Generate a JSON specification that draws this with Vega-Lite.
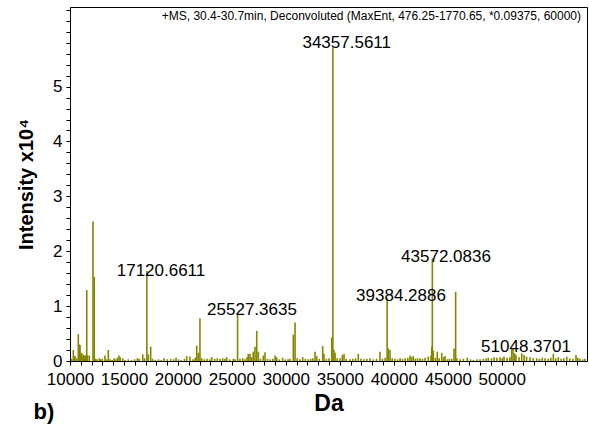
{
  "$schema": "https://vega.github.io/schema/vega-lite/v6.json",
  "autosize": "none",
  "padding": {"left": 70, "top": 7, "right": 2, "bottom": 64},
  "width": 517,
  "height": 354,
  "background": "white",
  "config": {
    "font": "Liberation Sans",
    "view": {"stroke": "black", "strokeWidth": 1}
  },
  "datasets": {
    "peaks": [
      {"mz": 10150, "intensity": 0.04}, {"mz": 10310, "intensity": 0.2}, {"mz": 10400, "intensity": 0.06},
      {"mz": 10460, "intensity": 0.09}, {"mz": 10620, "intensity": 0.05}, {"mz": 10770, "intensity": 0.49},
      {"mz": 10850, "intensity": 0.3}, {"mz": 10930, "intensity": 0.29}, {"mz": 11000, "intensity": 0.12},
      {"mz": 11080, "intensity": 0.15}, {"mz": 11160, "intensity": 0.08}, {"mz": 11240, "intensity": 0.12},
      {"mz": 11320, "intensity": 0.09}, {"mz": 11390, "intensity": 0.1}, {"mz": 11470, "intensity": 0.1},
      {"mz": 11550, "intensity": 1.29}, {"mz": 11620, "intensity": 0.1}, {"mz": 11790, "intensity": 0.1},
      {"mz": 12130, "intensity": 2.54}, {"mz": 12250, "intensity": 1.53}, {"mz": 12350, "intensity": 0.04},
      {"mz": 12500, "intensity": 0.03}, {"mz": 12720, "intensity": 0.05}, {"mz": 12850, "intensity": 0.03},
      {"mz": 13000, "intensity": 0.04}, {"mz": 13240, "intensity": 0.1}, {"mz": 13400, "intensity": 0.03},
      {"mz": 13550, "intensity": 0.2}, {"mz": 13700, "intensity": 0.03}, {"mz": 13900, "intensity": 0.02},
      {"mz": 14080, "intensity": 0.05}, {"mz": 14250, "intensity": 0.03}, {"mz": 14400, "intensity": 0.06},
      {"mz": 14540, "intensity": 0.1}, {"mz": 14650, "intensity": 0.07}, {"mz": 14880, "intensity": 0.05},
      {"mz": 15100, "intensity": 0.02}, {"mz": 15400, "intensity": 0.03}, {"mz": 15700, "intensity": 0.02},
      {"mz": 16000, "intensity": 0.03}, {"mz": 16240, "intensity": 0.05}, {"mz": 16400, "intensity": 0.04},
      {"mz": 16740, "intensity": 0.12}, {"mz": 16900, "intensity": 0.05}, {"mz": 17120, "intensity": 1.64},
      {"mz": 17250, "intensity": 0.12}, {"mz": 17475, "intensity": 0.26}, {"mz": 17650, "intensity": 0.04},
      {"mz": 17900, "intensity": 0.02}, {"mz": 18200, "intensity": 0.03}, {"mz": 18450, "intensity": 0.02},
      {"mz": 18710, "intensity": 0.05}, {"mz": 19000, "intensity": 0.03}, {"mz": 19330, "intensity": 0.04},
      {"mz": 19600, "intensity": 0.03}, {"mz": 19820, "intensity": 0.06}, {"mz": 20050, "intensity": 0.03},
      {"mz": 20300, "intensity": 0.02}, {"mz": 20600, "intensity": 0.04}, {"mz": 20810, "intensity": 0.09},
      {"mz": 21120, "intensity": 0.08}, {"mz": 21400, "intensity": 0.03}, {"mz": 21600, "intensity": 0.06},
      {"mz": 21740, "intensity": 0.28}, {"mz": 21890, "intensity": 0.15}, {"mz": 22040, "intensity": 0.78},
      {"mz": 22200, "intensity": 0.05}, {"mz": 22450, "intensity": 0.03}, {"mz": 22700, "intensity": 0.04},
      {"mz": 22950, "intensity": 0.03}, {"mz": 23130, "intensity": 0.07}, {"mz": 23400, "intensity": 0.04},
      {"mz": 23650, "intensity": 0.05}, {"mz": 23900, "intensity": 0.04}, {"mz": 24150, "intensity": 0.05},
      {"mz": 24350, "intensity": 0.04}, {"mz": 24520, "intensity": 0.07}, {"mz": 24800, "intensity": 0.03},
      {"mz": 25130, "intensity": 0.04}, {"mz": 25300, "intensity": 0.03}, {"mz": 25527, "intensity": 0.87},
      {"mz": 25750, "intensity": 0.04}, {"mz": 26000, "intensity": 0.05}, {"mz": 26200, "intensity": 0.03},
      {"mz": 26400, "intensity": 0.07}, {"mz": 26520, "intensity": 0.13}, {"mz": 26680, "intensity": 0.13},
      {"mz": 26830, "intensity": 0.07}, {"mz": 26980, "intensity": 0.17}, {"mz": 27140, "intensity": 0.26},
      {"mz": 27300, "intensity": 0.55}, {"mz": 27450, "intensity": 0.17}, {"mz": 27650, "intensity": 0.04},
      {"mz": 27910, "intensity": 0.1}, {"mz": 28070, "intensity": 0.16}, {"mz": 28300, "intensity": 0.04},
      {"mz": 28550, "intensity": 0.03}, {"mz": 28800, "intensity": 0.04}, {"mz": 29000, "intensity": 0.1},
      {"mz": 29150, "intensity": 0.07}, {"mz": 29400, "intensity": 0.03}, {"mz": 29700, "intensity": 0.06},
      {"mz": 29950, "intensity": 0.03}, {"mz": 30200, "intensity": 0.03}, {"mz": 30380, "intensity": 0.04},
      {"mz": 30690, "intensity": 0.48}, {"mz": 30850, "intensity": 0.7}, {"mz": 31050, "intensity": 0.05},
      {"mz": 31300, "intensity": 0.03}, {"mz": 31560, "intensity": 0.07}, {"mz": 31800, "intensity": 0.04},
      {"mz": 32050, "intensity": 0.03}, {"mz": 32300, "intensity": 0.04}, {"mz": 32500, "intensity": 0.05},
      {"mz": 32700, "intensity": 0.17}, {"mz": 32860, "intensity": 0.09}, {"mz": 33100, "intensity": 0.04},
      {"mz": 33410, "intensity": 0.27}, {"mz": 33530, "intensity": 0.13}, {"mz": 33750, "intensity": 0.04},
      {"mz": 34000, "intensity": 0.05}, {"mz": 34250, "intensity": 0.43}, {"mz": 34357, "intensity": 5.71},
      {"mz": 34450, "intensity": 0.2}, {"mz": 34560, "intensity": 0.15}, {"mz": 34750, "intensity": 0.05},
      {"mz": 35020, "intensity": 0.05}, {"mz": 35230, "intensity": 0.11}, {"mz": 35390, "intensity": 0.13},
      {"mz": 35600, "intensity": 0.04}, {"mz": 35940, "intensity": 0.03}, {"mz": 36200, "intensity": 0.04},
      {"mz": 36450, "intensity": 0.05}, {"mz": 36710, "intensity": 0.13}, {"mz": 36950, "intensity": 0.04},
      {"mz": 37240, "intensity": 0.03}, {"mz": 37500, "intensity": 0.04}, {"mz": 37800, "intensity": 0.05},
      {"mz": 38100, "intensity": 0.03}, {"mz": 38400, "intensity": 0.04}, {"mz": 38720, "intensity": 0.17},
      {"mz": 38950, "intensity": 0.04}, {"mz": 39200, "intensity": 0.06}, {"mz": 39384, "intensity": 1.14},
      {"mz": 39490, "intensity": 0.23}, {"mz": 39650, "intensity": 0.2}, {"mz": 39850, "intensity": 0.05},
      {"mz": 40100, "intensity": 0.04}, {"mz": 40350, "intensity": 0.03}, {"mz": 40580, "intensity": 0.05},
      {"mz": 40800, "intensity": 0.04}, {"mz": 41050, "intensity": 0.05}, {"mz": 41300, "intensity": 0.06},
      {"mz": 41500, "intensity": 0.1}, {"mz": 41650, "intensity": 0.07}, {"mz": 41810, "intensity": 0.09},
      {"mz": 42000, "intensity": 0.04}, {"mz": 42200, "intensity": 0.05}, {"mz": 42430, "intensity": 0.05},
      {"mz": 42650, "intensity": 0.04}, {"mz": 42900, "intensity": 0.06}, {"mz": 43200, "intensity": 0.08},
      {"mz": 43450, "intensity": 0.1}, {"mz": 43520, "intensity": 0.26}, {"mz": 43572, "intensity": 1.87},
      {"mz": 43660, "intensity": 0.19}, {"mz": 43850, "intensity": 0.06}, {"mz": 44030, "intensity": 0.17},
      {"mz": 44200, "intensity": 0.05}, {"mz": 44440, "intensity": 0.15}, {"mz": 44600, "intensity": 0.07},
      {"mz": 44750, "intensity": 0.09}, {"mz": 44950, "intensity": 0.03}, {"mz": 45150, "intensity": 0.04},
      {"mz": 45370, "intensity": 0.04}, {"mz": 45580, "intensity": 0.23}, {"mz": 45730, "intensity": 1.26},
      {"mz": 45850, "intensity": 0.05}, {"mz": 46140, "intensity": 0.03}, {"mz": 46450, "intensity": 0.04},
      {"mz": 46810, "intensity": 0.06}, {"mz": 47100, "intensity": 0.03}, {"mz": 47370, "intensity": 0.02},
      {"mz": 47700, "intensity": 0.03}, {"mz": 47990, "intensity": 0.03}, {"mz": 48300, "intensity": 0.04},
      {"mz": 48550, "intensity": 0.05}, {"mz": 48760, "intensity": 0.06}, {"mz": 49050, "intensity": 0.05},
      {"mz": 49290, "intensity": 0.07}, {"mz": 49550, "intensity": 0.06}, {"mz": 49840, "intensity": 0.07},
      {"mz": 50050, "intensity": 0.05}, {"mz": 50210, "intensity": 0.08}, {"mz": 50500, "intensity": 0.06},
      {"mz": 50750, "intensity": 0.07}, {"mz": 50920, "intensity": 0.21}, {"mz": 51048, "intensity": 0.23},
      {"mz": 51200, "intensity": 0.14}, {"mz": 51320, "intensity": 0.11}, {"mz": 51600, "intensity": 0.07},
      {"mz": 51850, "intensity": 0.14}, {"mz": 52070, "intensity": 0.11}, {"mz": 52300, "intensity": 0.08},
      {"mz": 52620, "intensity": 0.07}, {"mz": 52900, "intensity": 0.05}, {"mz": 53240, "intensity": 0.05},
      {"mz": 53500, "intensity": 0.04}, {"mz": 53750, "intensity": 0.06}, {"mz": 54010, "intensity": 0.05},
      {"mz": 54300, "intensity": 0.04}, {"mz": 54550, "intensity": 0.06}, {"mz": 54780, "intensity": 0.13},
      {"mz": 55000, "intensity": 0.05}, {"mz": 55240, "intensity": 0.07}, {"mz": 55500, "intensity": 0.04},
      {"mz": 55750, "intensity": 0.05}, {"mz": 56020, "intensity": 0.08}, {"mz": 56300, "intensity": 0.05},
      {"mz": 56600, "intensity": 0.04}, {"mz": 56880, "intensity": 0.11}, {"mz": 57050, "intensity": 0.06},
      {"mz": 57250, "intensity": 0.04}, {"mz": 57500, "intensity": 0.03}, {"mz": 57700, "intensity": 0.04}
    ],
    "peakLabels": [
      {"mz": 35637, "intensity": 5.8, "label": "34357.5611"},
      {"mz": 18431, "intensity": 1.645, "label": "17120.6611"},
      {"mz": 26863, "intensity": 0.929, "label": "25527.3635"},
      {"mz": 40668, "intensity": 1.19, "label": "39384.2886"},
      {"mz": 44837, "intensity": 1.9, "label": "43572.0836"},
      {"mz": 52250, "intensity": 0.26, "label": "51048.3701"}
    ],
    "header": [
      {"mz": 57345, "intensity": 6.286, "label": "+MS, 30.4-30.7min, Deconvoluted (MaxEnt, 476.25-1770.65, *0.09375, 60000)"}
    ],
    "panel": [
      {"mz": 7591, "intensity": -0.929, "label": "b)"}
    ]
  },
  "encoding": {
    "x": {
      "field": "mz", "type": "quantitative",
      "scale": {"domain": [10000, 57900], "nice": false, "zero": false},
      "axis": {
        "title": "Da",
        "titleFont": "Liberation Sans", "titleFontSize": 23, "titleFontWeight": "bold",
        "titleColor": "black", "titlePadding": 5,
        "values": [10000, 11000, 12000, 13000, 14000, 15000, 16000, 17000, 18000, 19000, 20000, 21000, 22000, 23000, 24000, 25000, 26000, 27000, 28000, 29000, 30000, 31000, 32000, 33000, 34000, 35000, 36000, 37000, 38000, 39000, 40000, 41000, 42000, 43000, 44000, 45000, 46000, 47000, 48000, 49000, 50000, 51000, 52000, 53000, 54000, 55000, 56000, 57000],
        "labelExpr": "datum.value % 5000 == 0 && datum.value <= 50000 ? format(datum.value, 'd') : ''",
        "labelFontSize": 17, "labelColor": "black", "labelPadding": 6,
        "labelOverlap": false, "labelFlush": false,
        "tickColor": "black", "tickSize": 4, "domainColor": "black",
        "grid": false
      }
    },
    "y": {
      "field": "intensity", "type": "quantitative",
      "scale": {"domain": [0, 6.45], "nice": false},
      "axis": {
        "title": "Intensity x10⁴",
        "titleFont": "Liberation Sans", "titleFontSize": 20, "titleFontWeight": "bold",
        "titleColor": "black", "titlePadding": 16,
        "values": [0, 0.2, 0.4, 0.6, 0.8, 1, 1.2, 1.4, 1.6, 1.8, 2, 2.2, 2.4, 2.6, 2.8, 3, 3.2, 3.4, 3.6, 3.8, 4, 4.2, 4.4, 4.6, 4.8, 5, 5.2, 5.4, 5.6, 5.8, 6, 6.2, 6.4],
        "labelExpr": "datum.value % 1 == 0 && datum.value <= 5 ? format(datum.value, 'd') : ''",
        "labelFontSize": 17, "labelColor": "black", "labelPadding": 4,
        "labelOverlap": false, "labelFlush": false,
        "tickColor": "black", "tickSize": 4, "domainColor": "black",
        "grid": false
      }
    }
  },
  "layer": [
    {
      "data": {"name": "peaks"},
      "mark": {"type": "rule", "color": "#858500", "strokeWidth": 1.6, "clip": true},
      "encoding": {
        "y2": {"datum": 0}
      }
    },
    {
      "data": {"name": "peakLabels"},
      "mark": {"type": "text", "font": "Liberation Sans", "fontSize": 17, "color": "black", "align": "center", "baseline": "middle"},
      "encoding": {
        "text": {"field": "label"}
      }
    },
    {
      "data": {"name": "header"},
      "mark": {"type": "text", "font": "Liberation Sans", "fontSize": 12, "color": "black", "align": "right", "baseline": "middle"},
      "encoding": {
        "text": {"field": "label"}
      }
    },
    {
      "data": {"name": "panel"},
      "mark": {"type": "text", "font": "Liberation Sans", "fontSize": 22, "fontWeight": "bold", "color": "black", "align": "center", "baseline": "middle"},
      "encoding": {
        "text": {"field": "label"}
      }
    }
  ]
}
